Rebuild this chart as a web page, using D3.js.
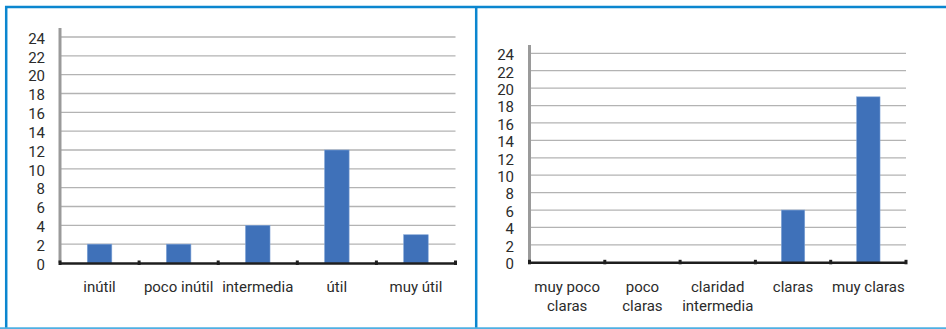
<!DOCTYPE html>
<html>
<head>
<meta charset="utf-8">
<script src="https://cdn.jsdelivr.net/npm/d3@7"></script>
<style>
  html, body { margin: 0; padding: 0; background: #fff; }
  svg { display: block; }
  text { font-family: "Liberation Sans Narrow", "Roboto", sans-serif; fill: #2b2b2b; }
</style>
</head>
<body>
<svg id="chart" width="946" height="329"></svg>
<script>
// Ratings of usefulness (left) and clarity (right)
const usefulCategories = ["inútil", "poco inútil", "intermedia", "útil", "muy útil"];
const usefulValues = [2, 2, 4, 12, 3];

const clarityCategories = ["muy poco\nclaras", "poco\nclaras", "claridad\nintermedia", "claras", "muy claras"];
const clarityValues = [0, 0, 0, 6, 19];

const yTicks = [0, 2, 4, 6, 8, 10, 12, 14, 16, 18, 20, 22, 24];

const svg = d3.select("#chart");
const BLUE = "#0b86cf";
const BAR = "#3f71b9";

// panel frames
svg.append("line").attr("x1", 5).attr("x2", 946).attr("y1", 7).attr("y2", 7)
  .attr("stroke", BLUE).attr("stroke-width", 2.5);
svg.append("line").attr("x1", 6.2).attr("x2", 6.2).attr("y1", 6).attr("y2", 329)
  .attr("stroke", BLUE).attr("stroke-width", 2.5);
svg.append("line").attr("x1", 476.2).attr("x2", 476.2).attr("y1", 6).attr("y2", 329)
  .attr("stroke", BLUE).attr("stroke-width", 2.5);
svg.append("line").attr("x1", 0).attr("x2", 946).attr("y1", 328.2).attr("y2", 328.2)
  .attr("stroke", "#4fb0e3").attr("stroke-width", 2);

function drawPanel(cfg) {
  const g = svg.append("g");
  const x = d3.scaleBand().domain(cfg.categories).range([cfg.x0, cfg.x1]).padding(0);
  const y = d3.scaleLinear().domain([0, 24]).range([cfg.yBottom, cfg.yTop]);

  // horizontal gridlines
  g.append("g").selectAll("line").data(yTicks.filter(t => t > 0)).join("line")
    .attr("x1", cfg.x0).attr("x2", cfg.x1)
    .attr("y1", d => y(d)).attr("y2", d => y(d))
    .attr("stroke", "#b3b3b3").attr("stroke-width", 1.3);

  // y tick labels
  const yAxis = d3.axisLeft(y).tickValues(yTicks).tickSize(0).tickPadding(0);
  const ya = g.append("g").attr("transform", `translate(${cfg.labelRight},0)`).call(yAxis);
  ya.select(".domain").remove();
  ya.selectAll("text")
    .attr("font-family", null)
    .style("font-size", "15px")
    .attr("dy", "0.42em")
    .attr("fill", "#2b2b2b");

  // bars
  const bw = x.bandwidth() * 0.31;
  g.append("g").selectAll("rect").data(cfg.values).join("rect")
    .attr("x", (d, i) => x(cfg.categories[i]) + x.bandwidth() / 2 - bw / 2)
    .attr("width", bw)
    .attr("y", d => y(d))
    .attr("height", d => y(0) - y(d))
    .attr("fill", BAR)
    .attr("stroke", "#7fa3d6").attr("stroke-width", 0.6);

  // vertical axis bar
  g.append("line").attr("x1", cfg.x0).attr("x2", cfg.x0)
    .attr("y1", cfg.axisTop).attr("y2", y(0))
    .attr("stroke", "#9a9a9a").attr("stroke-width", 3);

  // category axis with boundary ticks
  const bounds = cfg.categories.map(c => x(c)).concat([cfg.x1]);
  g.append("line").attr("x1", cfg.x0).attr("x2", cfg.x1)
    .attr("y1", y(0) + 0.5).attr("y2", y(0) + 0.5)
    .attr("stroke", "#1e1e1e").attr("stroke-width", 2.6);
  g.append("g").selectAll("rect").data(bounds).join("rect")
    .attr("x", d => d - 1.5).attr("width", 3)
    .attr("y", y(0) - 2.5).attr("height", 4.5)
    .attr("fill", "#1e1e1e");

  // category labels
  const lbl = g.append("g").selectAll("text").data(cfg.categories).join("text")
    .attr("x", d => x(d) + x.bandwidth() / 2)
    .attr("y", cfg.labelY)
    .attr("text-anchor", "middle")
    .style("font-size", "15px");
  lbl.each(function (d) {
    const t = d3.select(this);
    d.split("\n").forEach((line, i) => {
      t.append("tspan").attr("x", x(d) + x.bandwidth() / 2)
        .attr("dy", i === 0 ? 0 : 18.5).text(line);
    });
  });
}

drawPanel({
  categories: usefulCategories, values: usefulValues,
  x0: 60, x1: 455.5, yBottom: 263, yTop: 37, axisTop: 28,
  labelRight: 45, labelY: 291.5
});

drawPanel({
  categories: clarityCategories, values: clarityValues,
  x0: 529.5, x1: 906, yBottom: 262.3, yTop: 53.3, axisTop: 45,
  labelRight: 514, labelY: 292
});
</script>
</body>
</html>
